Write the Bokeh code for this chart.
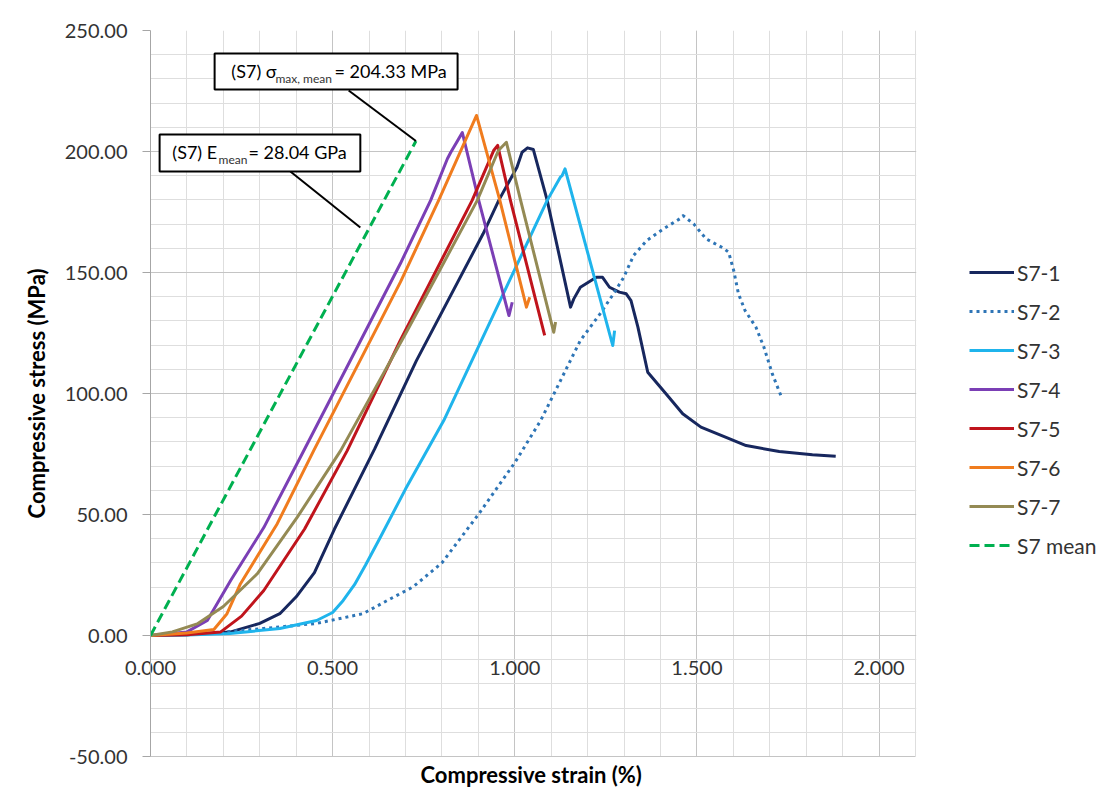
from bokeh.plotting import figure
from bokeh.models import (Legend, LegendItem, SingleIntervalTicker,
                          NumeralTickFormatter, Title, BoxAnnotation)
from bokeh.core.properties import value
from bokeh.embed import file_html
from bokeh.resources import INLINE

FONT = "Lato"

# ---------------- data (strain in %, stress in MPa) ----------------
s1_strain = [0, 0.10, 0.218, 0.30, 0.355, 0.40, 0.45, 0.505, 0.615, 0.730, 0.913, 0.956, 1.006, 1.020,
             1.035, 1.051, 1.089, 1.153, 1.162, 1.180, 1.224, 1.241, 1.260, 1.287, 1.306,
             1.319, 1.338, 1.365, 1.415, 1.461, 1.511, 1.580, 1.635, 1.726, 1.817, 1.881]
s1_stress = [0, 0.3, 1.4, 5, 9, 16, 26, 44, 77, 113.6, 166, 179.8, 193.5, 199.7,
             201.5, 200.8, 179.8, 135.7, 139.1, 143.9, 148, 148, 143.9, 141.9, 141.2,
             138.4, 127.4, 108.8, 99.9, 91.6, 86.1, 81.9, 78.5, 76, 74.7, 74.1]

s2_strain = [0, 0.15, 0.311, 0.456, 0.583, 0.659, 0.720, 0.800, 0.900, 1.000, 1.071, 1.180,
             1.234, 1.271, 1.299, 1.326, 1.362, 1.408, 1.453, 1.462, 1.491, 1.525, 1.571,
             1.587, 1.601, 1.614, 1.632, 1.662, 1.684, 1.707, 1.734]
s2_stress = [0, 0.8, 2.9, 5, 9, 15.2, 20, 30, 50, 71.4, 88.8, 121.9,
             132.9, 141.2, 148, 157, 163.2, 168, 172.2, 173.5, 170.1, 163.9, 160.2,
             158.4, 150.8, 141.2, 134.3, 127.4, 119.1, 108.1, 97.8]

s3_strain = [0, 0.10, 0.218, 0.355, 0.456, 0.50, 0.529, 0.560, 0.590, 0.631, 0.700, 0.805, 1.089,
             1.125, 1.130, 1.138, 1.269, 1.274]
s3_stress = [0, 0.2, 0.8, 2.9, 6.2, 9.5, 14.5, 21, 29, 40.6, 60.5, 88.8, 179.8,
             189.4, 190, 192.8, 119.8, 126]

s4_strain = [0, 0.10, 0.156, 0.220, 0.311, 0.416, 0.686, 0.769, 0.815, 0.824, 0.856,
             0.901, 0.984, 0.993]
s4_stress = [0, 1.5, 6.2, 22.7, 44.6, 75, 153.7, 179.8, 197, 199.6, 207.8,
             179.8, 132.2, 137.7]

s5_strain = [0, 0.10, 0.192, 0.25, 0.311, 0.423, 0.540, 0.686, 0.883, 0.942, 0.953, 0.988, 1.082]
s5_stress = [0, 0.3, 1.4, 8, 18.6, 44, 76.4, 122, 179.8, 200.4, 202.5, 179.8, 124.0]

s6_strain = [0, 0.10, 0.174, 0.21, 0.247, 0.348, 0.448, 0.686, 0.791, 0.895, 0.959,
             1.032, 1.041]
s6_stress = [0, 1.0, 2.5, 9, 21.4, 46.2, 76.4, 146, 179.8, 214.9, 179.8,
             135.7, 139.8]

s7_strain = [0, 0.06, 0.128, 0.20, 0.293, 0.403, 0.522, 0.705, 0.897, 0.955, 0.977,
             1.016, 1.107, 1.112]
s7_stress = [0, 1.5, 4.8, 12, 25.5, 48.9, 76.4, 126, 179.8, 200.4, 203.8,
             179.8, 125.3, 129.5]

E_mean_GPa = 28.04
sigma_max_mean = 204.33
mean_strain = [0, sigma_max_mean / (E_mean_GPa * 1000) * 100]
mean_stress = [0, sigma_max_mean]

names = ["S7-1", "S7-2", "S7-3", "S7-4", "S7-5", "S7-6", "S7-7", "S7 mean"]
x_ticks_interval = 0.5
y_ticks_interval = 50
x_axis_max = 2.1

# ---------------- figure ----------------
# the frame is widened to the canvas edge so that the legend (drawn to the right
# of the 0-2.1 grid) is not clipped; the extra strip is blanked out below.
px_per_unit = 765 / x_axis_max
x_view_max = x_axis_max + 198 / px_per_unit
p = figure(width=1113, height=806, x_range=(0, x_view_max), y_range=(-50, 250),
           output_backend="svg", toolbar_location=None,
           min_border_left=150, min_border_right=0, min_border_top=30,
           min_border_bottom=50, background_fill_color="white",
           border_fill_color="white")
p.outline_line_color = None

p.xaxis.ticker = SingleIntervalTicker(interval=x_ticks_interval, num_minor_ticks=5)
p.yaxis.ticker = SingleIntervalTicker(interval=y_ticks_interval, num_minor_ticks=5)
p.xaxis.formatter = NumeralTickFormatter(format="0.000")
p.yaxis.formatter = NumeralTickFormatter(format="0.00")
p.xaxis.bounds = (0, x_axis_max)

for ax in (p.xaxis, p.yaxis):
    ax.axis_line_color = "#A6A6A6"
    ax.major_tick_line_color = "#A6A6A6"
    ax.minor_tick_line_color = None
    ax.major_label_text_font = FONT
    ax.major_label_text_font_size = "20px"
    ax.major_label_text_color = "#333333"
    ax.major_tick_in = 0
# x tick labels sit just under the zero-stress line, as in the original
p.xaxis.axis_line_color = "#C4C4C4"
p.xaxis.major_tick_out = 0
p.xaxis.major_label_standoff = -100
p.yaxis.major_tick_out = 8
p.yaxis.major_label_standoff = 15
p.yaxis.axis_label = "Compressive stress (MPa)"
p.yaxis.axis_label_text_font = FONT
p.yaxis.axis_label_text_font_size = "22px"
p.yaxis.axis_label_text_font_style = "bold"
p.yaxis.axis_label_text_color = "black"
p.yaxis.axis_label_standoff = 12

for g in (p.xgrid, p.ygrid):
    g.grid_line_color = "#C4C4C4"
    g.minor_grid_line_color = "#DEDEDE"

p.add_layout(Title(text="Compressive strain (%)", align="left", offset=270,
                   text_font=FONT, text_font_size="22px", text_font_style="bold",
                   text_color="black", standoff=4), "below")

# blank strip right of the grid (where the legend sits)
p.add_layout(BoxAnnotation(left=x_axis_max + 0.002, fill_color="white", fill_alpha=1.0,
                           line_color=None, level="underlay"))

# ---------------- series ----------------
colors = ["#17275E", "#2E75B6", "#1FB4EC", "#7B3FB5", "#C0141C", "#F07C1E", "#948A54", "#00B050"]
series = [(s1_strain, s1_stress), (s2_strain, s2_stress), (s3_strain, s3_stress),
          (s4_strain, s4_stress), (s5_strain, s5_stress), (s6_strain, s6_stress),
          (s7_strain, s7_stress), (mean_strain, mean_stress)]
dashes = ["solid", "3 4", "solid", "solid", "solid", "solid", "solid", "10 5"]

renderers = []
for (xs, ys), c, d in zip(series, colors, dashes):
    r = p.line(xs, ys, line_color=c, line_width=3, line_dash=d, line_join="round")
    renderers.append(r)

# ---------------- callouts ----------------
box_left = [0.176, 0.025]
box_right = [0.843, 0.576]
box_bottom = [225.6, 191.7]
box_top = [240.5, 207.0]
leader_x = [[0.544, mean_strain[1]], [0.384, 0.576]]
leader_y = [[225.2, mean_stress[1]], [191.7, 168.6]]
for lx, ly in zip(leader_x, leader_y):
    p.line(lx, ly, line_color="black", line_width=2)
p.quad(left=box_left, right=box_right, bottom=box_bottom, top=box_top,
       fill_color="white", line_color="black", line_width=2)

main_text = ["(S7) \u03c3", "= %.2f MPa" % sigma_max_mean, "(S7) E", "= %.2f GPa" % E_mean_GPa]
main_x = [0.222, 0.505, 0.060, 0.269]
main_y = [233.1, 233.1, 199.6, 199.6]
p.text(x=main_x, y=main_y, text=main_text, text_font=value(FONT), text_font_size="18px",
       text_baseline="middle", text_align="left", text_color="black")
sub_text = ["max, mean", "mean"]
sub_x = [0.343, 0.187]
sub_y = [230.0, 196.5]
p.text(x=sub_x, y=sub_y, text=sub_text, text_font=value(FONT), text_font_size="12px",
       text_baseline="middle", text_align="left", text_color="#333333")

# ---------------- legend ----------------
items = [LegendItem(label=n, renderers=[r]) for n, r in zip(names, renderers)]
legend = Legend(items=items, location=(819, 198), glyph_width=45, glyph_height=26,
                label_height=26, spacing=13, padding=5, margin=0,
                border_line_color=None, background_fill_alpha=0,
                label_text_font=FONT, label_text_font_size="21px",
                label_text_color="#333333", label_standoff=3)
p.add_layout(legend)

open("out.html", "w").write(file_html(p, INLINE))
